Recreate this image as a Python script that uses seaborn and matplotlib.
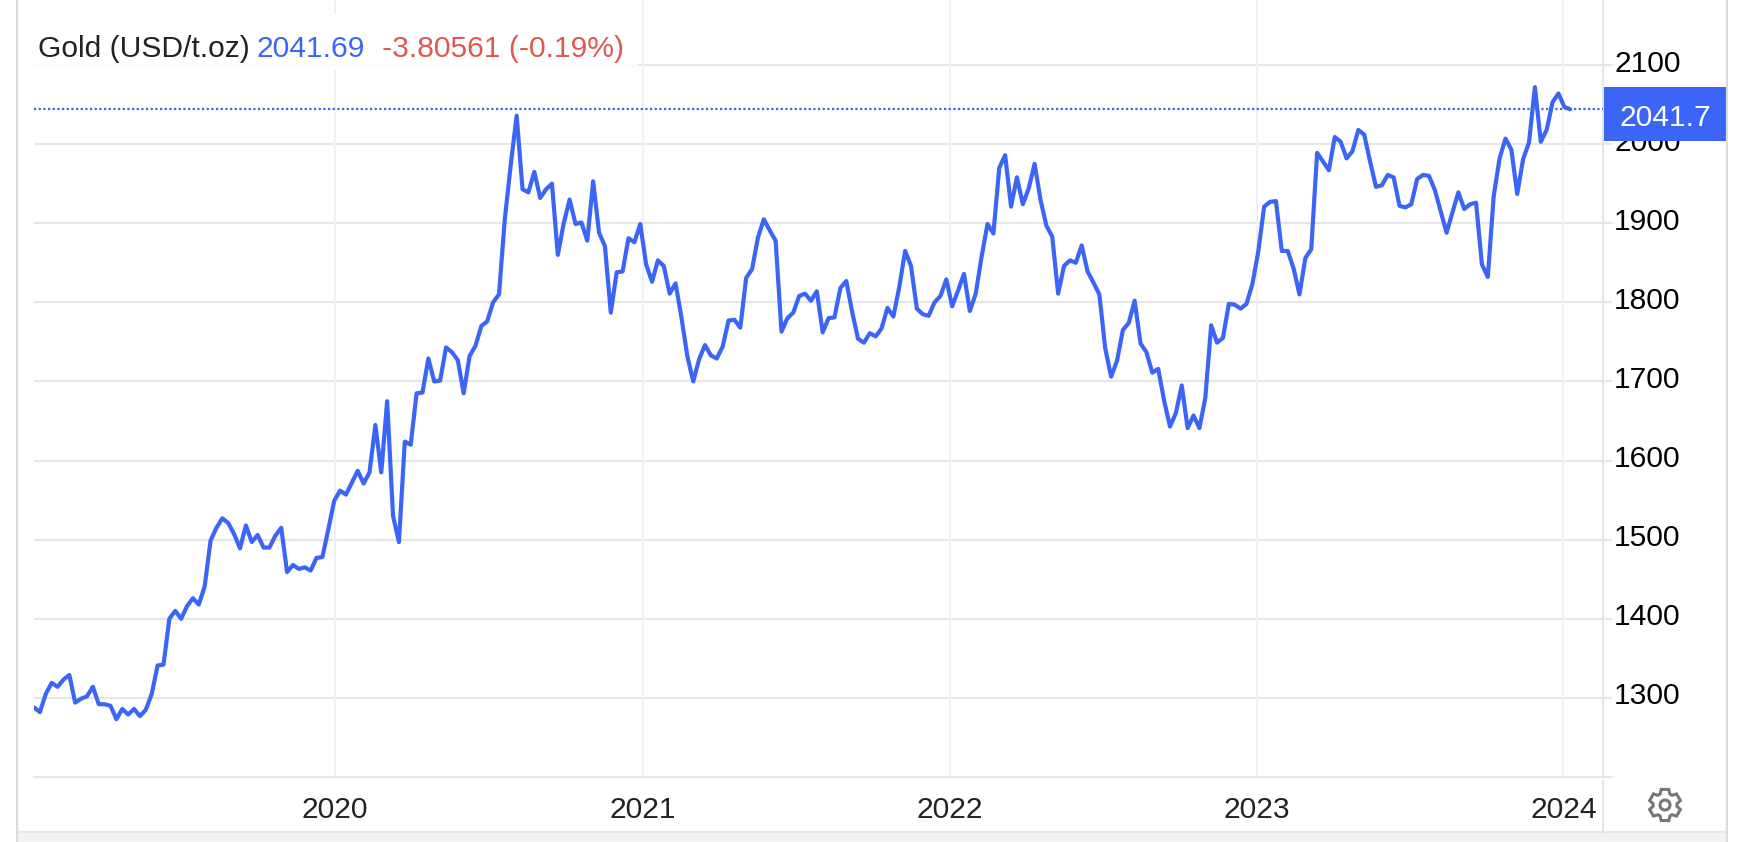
import numpy as np
import pandas as pd
import matplotlib
matplotlib.use("Agg")
import matplotlib.pyplot as plt
from matplotlib.lines import Line2D
from matplotlib.patches import Polygon, Rectangle, Circle
from matplotlib.transforms import ScaledTranslation
import seaborn as sns

# Weekly gold price, one list per year
start_date = "2019-01-08"
prices_2019 = [1288, 1282, 1305, 1319, 1314, 1323, 1329, 1294, 1299, 1302, 1314, 1292, 1292,
               1290, 1273, 1286, 1279, 1286, 1277, 1285, 1305, 1341, 1342, 1400, 1410, 1400,
               1416, 1426, 1418, 1441, 1499, 1515, 1527, 1521, 1507, 1489, 1518, 1497, 1506,
               1490, 1490, 1505, 1515, 1459, 1468, 1463, 1465, 1461, 1477, 1478, 1513, 1549]
prices_2020 = [1562, 1557, 1572, 1587, 1571, 1585, 1645, 1585, 1675, 1530, 1497, 1624, 1620,
               1685, 1686, 1729, 1700, 1701, 1743, 1737, 1727, 1685, 1732, 1745, 1770, 1776,
               1800, 1810, 1906, 1974, 2036, 1943, 1939, 1965, 1932, 1943, 1950, 1860, 1900,
               1930, 1899, 1901, 1878, 1953, 1888, 1871, 1787, 1838, 1839, 1881, 1876, 1899]
prices_2021 = [1848, 1826, 1853, 1846, 1811, 1824, 1781, 1732, 1700, 1728, 1746, 1733, 1729,
               1744, 1777, 1778, 1768, 1831, 1842, 1882, 1905, 1891, 1878, 1763, 1780, 1787,
               1808, 1811, 1802, 1814, 1762, 1780, 1781, 1818, 1827, 1788, 1754, 1749, 1761,
               1757, 1767, 1793, 1782, 1819, 1865, 1846, 1792, 1785, 1783, 1800, 1808, 1829]
prices_2022 = [1795, 1815, 1836, 1789, 1811, 1858, 1899, 1887, 1970, 1986, 1921, 1958, 1924,
               1944, 1975, 1930, 1897, 1883, 1811, 1846, 1853, 1850, 1872, 1839, 1825, 1810,
               1742, 1706, 1726, 1765, 1774, 1802, 1748, 1737, 1711, 1716, 1676, 1643, 1660,
               1695, 1641, 1657, 1641, 1679, 1771, 1749, 1755, 1798, 1797, 1792, 1798, 1823]
prices_2023 = [1864, 1921, 1927, 1928, 1865, 1865, 1843, 1810, 1856, 1867, 1989, 1978, 1967,
               2009, 2003, 1982, 1991, 2018, 2012, 1978, 1946, 1948, 1961, 1958, 1922, 1920,
               1924, 1956, 1961, 1960, 1942, 1915, 1888, 1914, 1939, 1918, 1924, 1926, 1848,
               1832, 1934, 1982, 2007, 1993, 1937, 1981, 2002, 2072, 2003, 2018, 2053, 2064]
prices_2024 = [2047, 2044]

price_ticks = [1200, 1300, 1400, 1500, 1600, 1700, 1800, 1900, 2000, 2100]
price_tick_labels = ["", "1300", "1400", "1500", "1600", "1700", "1800", "1900", "2000", "2100"]
year_ticks = ["2020-01-01", "2021-01-01", "2022-01-01", "2023-01-01", "2024-01-01"]
year_labels = ["2020", "2021", "2022", "2023", "2024"]
last_line_level = 2044  # where the dotted line sits on the picture

BLUE = "#3a65f6"
RED = "#e0574f"
GRID = "#e6e6e6"
W, H = 1744, 842

all_prices = prices_2019 + prices_2020 + prices_2021 + prices_2022 + prices_2023 + prices_2024
df = pd.DataFrame({
    "date": pd.date_range(start_date, periods=len(all_prices), freq="7D"),
    "price": all_prices,
})

sns.set_theme(style="white")
plt.rcParams["font.family"] = ["Liberation Sans", "DejaVu Sans"]


def fx(x):
    return x / W


def fy(y):
    return 1 - y / H


fig = plt.figure(figsize=(W / 100, H / 100), dpi=100, facecolor="white")
ax = fig.add_axes([fx(34), fy(777), (1603 - 34) / W, 777 / H])

# vertical year lines
for t in year_ticks:
    ax.axvline(pd.Timestamp(t), color="#eef1f5", lw=1.5, zorder=1)

sns.lineplot(data=df, x="date", y="price", ax=ax, color=BLUE, linewidth=3.0, zorder=4)
ax.axhline(last_line_level, color=BLUE, lw=1.6, ls=(0, (1, 1.1)), zorder=3)

ax.set_xlim(pd.Timestamp(start_date), pd.Timestamp("2024-02-17"))
ax.set_ylim(1200, 1200 + 777 / 0.7911)
ax.set_xlabel("")
ax.set_ylabel("")
ax.yaxis.tick_right()
ax.set_yticks(price_ticks, price_tick_labels)
ax.set_xticks([pd.Timestamp(t) for t in year_ticks], year_labels)
ax.grid(axis="y", color=GRID, lw=1.5, zorder=0)
ax.set_axisbelow(True)
ax.tick_params(axis="y", right=True, length=6.5, width=1.5, color=GRID, labelsize=21.6,
               labelcolor="black", pad=1.5)
ax.tick_params(axis="x", bottom=False, labelsize=21.6, labelcolor="#222222", pad=7.5)
# y labels sit a little above their grid lines
shift_up = ScaledTranslation(0, 4.4 / 100, fig.dpi_scale_trans)
for lab in ax.get_yticklabels():
    lab.set_transform(lab.get_transform() + shift_up)
for side in ["left", "top"]:
    ax.spines[side].set_visible(False)
for side in ["bottom", "right"]:
    ax.spines[side].set_color(GRID)
    ax.spines[side].set_linewidth(1.5)


def rect(x0, y0, x1, y1, color, z=5):
    fig.add_artist(Rectangle((fx(x0), fy(y1)), (x1 - x0) / W, (y1 - y0) / H, transform=fig.transFigure,
                             facecolor=color, edgecolor="none", zorder=z))


def line(x0, y0, x1, y1, color, lw=1.5, z=6):
    fig.add_artist(Line2D([fx(x0), fx(x1)], [fy(y0), fy(y1)], transform=fig.transFigure,
                          color=color, lw=lw, zorder=z))


# outer frame and bottom strip
rect(17, 832, 1727, 842, "#f3f3f3")
line(17, 832, 1727, 832, GRID)
line(17, 0, 17, 842, "#dcdcdc", lw=1.6)
line(1727, 0, 1727, 842, "#dcdcdc", lw=1.6)
line(1603, 780, 1603, 832, GRID)

# header box
rect(34, 14, 637, 70, "white")
line(34, 65, 637, 65, "#f6f6f6", lw=1)
header_y = fy(49)
fig.text(fx(38), header_y, "Gold (USD/t.oz)", fontsize=21.6, color="#222222", va="center", zorder=7)
fig.text(fx(257), header_y, "2041.69", fontsize=21.6, color=BLUE, va="center", zorder=7)
fig.text(fx(382), header_y, "-3.80561 (-0.19%)", fontsize=21.6, color=RED, va="center", zorder=7)

# last value label
rect(1604, 87, 1726, 141, BLUE)
fig.text(fx(1619), fy(118), "2041.7", fontsize=21.6, color="white", va="center", zorder=7)

# settings gear
cx, cy = 1665, 805
angles = np.linspace(0, 2 * np.pi, 6, endpoint=False) + np.pi / 2
gear = []
for a in angles:
    for da, r in [(-0.42, 12), (-0.24, 16), (0.24, 16), (0.42, 12)]:
        gear.append((fx(cx + r * np.cos(a + da)), fy(cy - r * np.sin(a + da))))
fig.add_artist(Polygon(gear, closed=True, transform=fig.transFigure, facecolor="none",
                       edgecolor="#777777", lw=2.2, zorder=7))
fig.add_artist(Circle((cx, H - cy), 5, transform=None, facecolor="none", edgecolor="#777777",
                      lw=2.2, zorder=7))

fig.savefig("out.png", dpi=100)
